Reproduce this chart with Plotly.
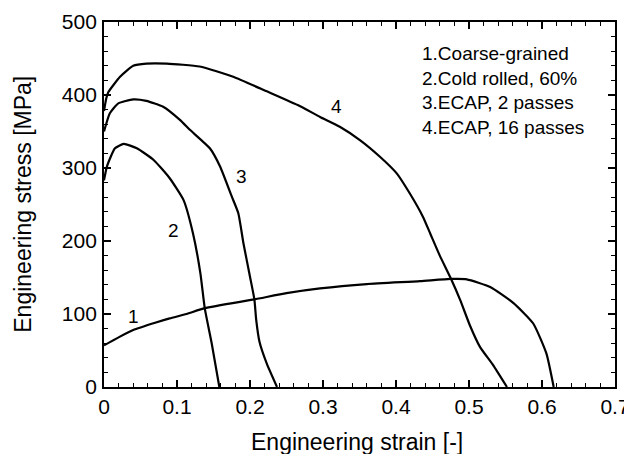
import plotly.graph_objects as go

# Curve 1: Coarse-grained
strain_1 = [0.0, 0.02, 0.04, 0.07, 0.09, 0.113, 0.138, 0.206, 0.25, 0.296, 0.36, 0.433, 0.475, 0.497, 0.529, 0.561, 0.588, 0.606, 0.616]
stress_1 = [57, 68, 78, 88, 94, 100, 108, 120, 128.5, 135, 141, 145, 148, 147.5, 137, 115, 87, 46, 0]

# Curve 2: Cold rolled, 60%
strain_2 = [0.0, 0.004, 0.015, 0.027, 0.045, 0.068, 0.09, 0.109, 0.122, 0.132, 0.138, 0.1475, 0.158]
stress_2 = [283, 302, 327, 333, 327, 311, 286, 256, 210, 156, 108, 60, 0]

# Curve 3: ECAP, 2 passes
strain_3 = [0.0, 0.008, 0.0196, 0.04, 0.058, 0.081, 0.104, 0.118, 0.145, 0.159, 0.175, 0.184, 0.191, 0.2, 0.206, 0.2085, 0.213, 0.223, 0.237]
stress_3 = [350, 375, 388.6, 394, 392, 384, 366, 352, 327, 302, 261, 238, 197, 151, 120, 92, 62, 32, 0]

# Curve 4: ECAP, 16 passes
strain_4 = [0.0, 0.003, 0.006, 0.022, 0.04, 0.058, 0.086, 0.131, 0.177, 0.223, 0.268, 0.296, 0.323, 0.351, 0.378, 0.401, 0.419, 0.437, 0.447, 0.46, 0.475, 0.488, 0.501, 0.515, 0.533, 0.552]
stress_4 = [378, 395, 404, 425, 440, 443, 443, 439, 425, 405, 385, 370, 356.6, 338, 315.5, 292.7, 265, 233, 210, 180, 149, 119, 85, 55, 30, 0]

curve_labels = ["1", "2", "3", "4"]
label_x = [0.04, 0.095, 0.189, 0.319]
label_y = [96, 214, 289, 384]

legend_lines = ["1.Coarse-grained", "2.Cold rolled, 60%", "3.ECAP, 2 passes", "4.ECAP, 16 passes"]

x_ticks = [0, 0.1, 0.2, 0.3, 0.4, 0.5, 0.6, 0.7]
x_tick_text = ["0", "0.1", "0.2", "0.3", "0.4", "0.5", "0.6", "0.7"]
y_ticks = [0, 100, 200, 300, 400, 500]

FONT = "Liberation Sans, Arial, sans-serif"

fig = go.Figure()
for xs, ys in [(strain_1, stress_1), (strain_2, stress_2), (strain_3, stress_3), (strain_4, stress_4)]:
    fig.add_trace(go.Scatter(x=xs, y=ys, mode="lines",
                             line=dict(color="black", width=2.2, shape="spline", smoothing=0.5),
                             showlegend=False, hoverinfo="skip"))

for t, lx, ly in zip(curve_labels, label_x, label_y):
    fig.add_annotation(x=lx, y=ly, text=t, showarrow=False,
                       font=dict(family=FONT, size=19, color="black"))

fig.add_annotation(x=0.618, y=0.948, xref="paper", yref="paper", xanchor="left", yanchor="top",
                   text="<br>".join(legend_lines), showarrow=False, align="left",
                   font=dict(family=FONT, size=19, color="black"))

# axis titles
fig.add_annotation(x=0.495, y=-0.151, xref="paper", yref="paper", xanchor="center", yanchor="middle",
                   text="Engineering strain [-]", showarrow=False,
                   font=dict(family=FONT, size=23, color="black"))
fig.add_annotation(x=-0.160, y=0.5, xref="paper", yref="paper", xanchor="center", yanchor="middle",
                   text="Engineering stress [MPa]", showarrow=False, textangle=-90,
                   font=dict(family=FONT, size=23, color="black"))

axis_common = dict(showgrid=False, zeroline=False, showline=True, linecolor="black", linewidth=1.8,
                   ticks="inside", ticklen=7, tickwidth=1.5, tickcolor="black", mirror="allticks",
                   automargin=False,
                   tickfont=dict(family=FONT, size=21, color="black"))

fig.update_xaxes(range=[0, 0.7], tickvals=x_ticks, ticktext=x_tick_text,
                 minor=dict(dtick=0.02, ticks="inside", ticklen=4, tickwidth=1.2, tickcolor="black"),
                 **axis_common)
fig.update_yaxes(range=[0, 500], tickvals=y_ticks,
                 minor=dict(dtick=20, ticks="inside", ticklen=4, tickwidth=1.2, tickcolor="black"),
                 ticklabelstandoff=1,
                 **axis_common)

# page body has an 8px default margin; size/margins compensate so the plot area lands at the reference spot
fig.update_layout(width=624, height=446, margin=dict(l=96, r=17, t=14, b=67),
                  plot_bgcolor="white", paper_bgcolor="white")

fig.write_html("out.html")
